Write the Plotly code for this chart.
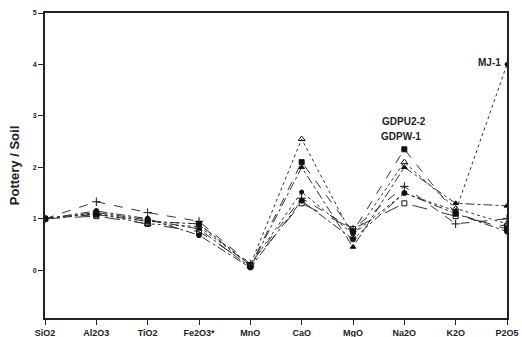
import plotly.graph_objects as go

categories = ["SiO2", "Al2O3", "TiO2", "Fe2O3*", "MnO", "CaO", "MgO", "Na2O", "K2O", "P2O5"]

mj1      = [1.0, 1.10, 0.95, 0.90, 0.10, 1.52, 0.70, 1.50, 1.15, 4.00]
gdpu2_2  = [1.0, 1.08, 0.95, 0.90, 0.08, 2.10, 0.75, 2.35, 1.10, 0.80]
gdpw_1   = [1.0, 1.10, 0.90, 0.85, 0.10, 2.55, 0.65, 2.10, 1.20, 0.90]
s_plus   = [1.0, 1.33, 1.12, 0.95, 0.12, 1.40, 0.80, 1.63, 0.90, 1.00]
s_tri    = [1.0, 1.12, 0.98, 0.80, 0.06, 2.00, 0.45, 2.00, 1.30, 1.25]
s_osq    = [1.0, 1.05, 0.90, 0.75, 0.10, 1.30, 0.80, 1.30, 1.05, 0.85]
s_circ   = [1.0, 1.15, 1.00, 0.68, 0.05, 1.35, 0.60, 1.50, 1.10, 0.75]

series = [
    ("MJ-1", mj1, "circle", "dot", 4),
    ("GDPU2-2", gdpu2_2, "square", "dash", 5),
    ("GDPW-1", gdpw_1, "triangle-up-open", "dot", 6),
    ("S4", s_plus, "cross-thin-open", "dash", 6),
    ("S5", s_tri, "triangle-up", "dashdot", 5),
    ("S6", s_osq, "square-open", "longdash", 5),
    ("S7", s_circ, "circle", "dashdot", 5),
]

xs = list(range(len(categories)))
fig = go.Figure()
for name, vals, sym, dash, sz in series:
    fig.add_trace(go.Scatter(
        x=xs, y=vals, mode="lines+markers", name=name,
        line=dict(color="#333333", width=1, dash=dash),
        marker=dict(symbol=sym, size=sz, color="#111111",
                    line=dict(color="#111111", width=1)),
        showlegend=False,
    ))

afont = dict(family="Liberation Sans, Arial", size=10, color="#222")
fig.add_annotation(x=9, y=4.0, text="<b>MJ-1</b>", showarrow=False,
                   xanchor="right", yanchor="middle", xshift=-4, yshift=2, font=afont)
fig.add_annotation(x=7, y=2.35, text="<b>GDPU2-2</b>", showarrow=False,
                   xanchor="center", yanchor="middle", yshift=28, font=afont)
fig.add_annotation(x=7, y=2.35, text="<b>GDPW-1</b>", showarrow=False,
                   xanchor="center", yanchor="middle", yshift=13, xshift=-3, font=afont)

axis_common = dict(showline=True, linecolor="#222", linewidth=2, mirror=True,
                   showgrid=False, zeroline=False, ticks="outside",
                   ticklen=5, tickwidth=1, tickcolor="#222", automargin=False)
fig.update_layout(
    width=522, height=337,
    margin=dict(l=45, r=15, t=13, b=19),
    paper_bgcolor="white", plot_bgcolor="white",
    font=dict(family="Liberation Sans, Arial", color="#222"),
    xaxis=dict(range=[0, 9], tickvals=xs, ticktext=[f"<b>{c}</b>" for c in categories],
               tickfont=dict(size=9), **axis_common),
    yaxis=dict(range=[-0.93, 5], tickvals=[0, 1, 2, 3, 4, 5],
               ticktext=["<b>0</b>", "<b>1</b>", "<b>2</b>", "<b>3</b>", "<b>4</b>", "<b>5</b>"],
               tickfont=dict(size=7),
               title=dict(text="<b>Pottery / Soil</b>", font=dict(size=13), standoff=10),
               **axis_common),
)
fig.write_html("out.html")
